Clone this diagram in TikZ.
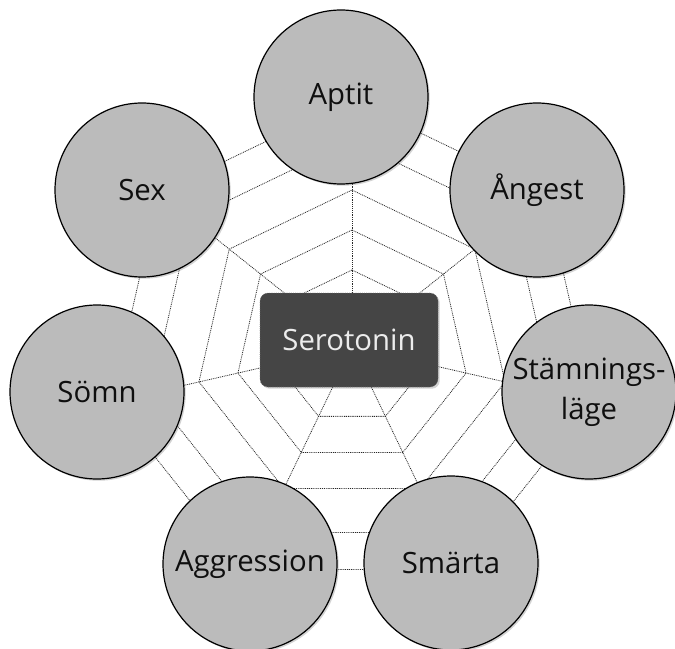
\documentclass[tikz,border=0pt]{standalone}
\usepackage{fontspec}
\setmainfont{Open Sans}
\usetikzlibrary{shadows}

\definecolor{bubblegray}{RGB}{187,187,187}
\definecolor{boxgray}{RGB}{69,69,69}

\begin{document}
\begin{tikzpicture}[x=0.75pt,y=0.75pt,yscale=-1,xscale=1,
  web/.style={color={rgb, 255:red, 40; green, 40; blue, 40}, line width=0.6pt, dash pattern={on 0.7pt off 0.7pt}},
  bubble/.style={circle, draw=black, line width=0.9pt, fill=bubblegray, minimum size=130.5pt, inner sep=0pt, align=center, font=\fontsize{22}{30}\selectfont, text={rgb, 255:red, 15; green, 15; blue, 15}, drop shadow={shadow xshift=1.3pt, shadow yshift=-1.3pt, opacity=0.35}},
  hubbox/.style={rectangle, rounded corners=6pt, draw=black!55, densely dotted, fill=boxgray, minimum width=133.5pt, minimum height=70.5pt, text={rgb, 255:red, 236; green, 236; blue, 236}, font=\fontsize{22}{26}\selectfont, drop shadow={shadow xshift=1.3pt, shadow yshift=-1.3pt, opacity=0.35}}]
%set diagram to the size of the reference
\useasboundingbox (0,0) rectangle (675,649);

\begin{scope}[shift={(352,347)}]
%Web: rings
\draw [web] (-90:77) -- (-38.57:77) -- (12.86:77) -- (64.29:77) -- (115.71:77) -- (167.14:77) -- (218.57:77) -- cycle ;
\draw [web] (-90:117) -- (-38.57:117) -- (12.86:117) -- (64.29:117) -- (115.71:117) -- (167.14:117) -- (218.57:117) -- cycle ;
\draw [web] (-90:157) -- (-38.57:157) -- (12.86:157) -- (64.29:157) -- (115.71:157) -- (167.14:157) -- (218.57:157) -- cycle ;
\draw [web] (-90:206) -- (-38.57:206) -- (12.86:206) -- (64.29:206) -- (115.71:206) -- (167.14:206) -- (218.57:206) -- cycle ;
\draw [web] (-90:247) -- (-38.57:247) -- (12.86:247) -- (64.29:247) -- (115.71:247) -- (167.14:247) -- (218.57:247) -- cycle ;

%Web: spokes
\draw [web] (0,0) -- (-90:247) ;
\draw [web] (0,0) -- (-38.57:247) ;
\draw [web] (0,0) -- (12.86:247) ;
\draw [web] (0,0) -- (64.29:247) ;
\draw [web] (0,0) -- (115.71:247) ;
\draw [web] (0,0) -- (167.14:247) ;
\draw [web] (0,0) -- (218.57:247) ;
\end{scope}

%Shape: Circle
\node [bubble] (aptit) at (341,97) {Aptit};
%Shape: Circle
\node [bubble] (angest) at (537,190) {Ångest};
%Shape: Circle
\node [bubble] (stamning) at (589,392) {Stämnings-\\läge};
%Shape: Circle
\node [bubble] (smarta) at (451,563) {Smärta};
%Shape: Circle
\node [bubble] (aggression) at (250,564) {Aggression};
%Shape: Circle
\node [bubble] (somn) at (97,392) {Sömn};
%Shape: Circle
\node [bubble] (sex) at (142,190) {Sex};

% Text Node
\node [hubbox] (sero) at (349,340) {Serotonin};

\end{tikzpicture}
\end{document}
